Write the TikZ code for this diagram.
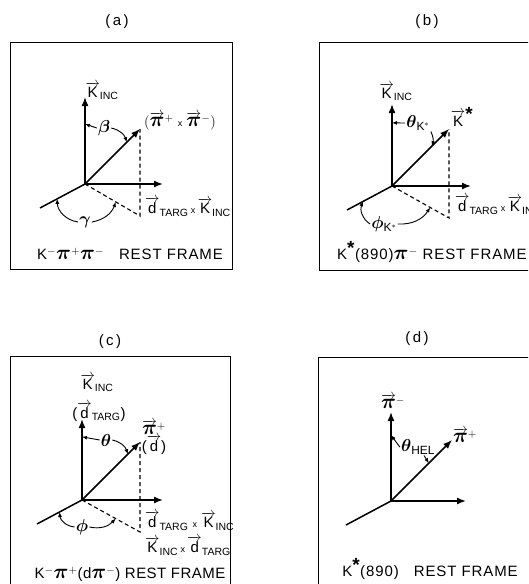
\documentclass[tikz,border=0pt]{standalone}
\usepackage{amsmath}
\usepackage{fontspec}
\setmainfont{Liberation Sans}
\usetikzlibrary{arrows.meta,calc,positioning}
\newcommand{\arr}[1]{\overrightarrow{\mbox{#1}}}
\newcommand{\bpi}{\mbox{\fontsize{20}{20}\selectfont$\boldsymbol{\pi}$}}
\newcommand{\bstar}{\mbox{\fontsize{19}{19}\selectfont\bfseries *}}
\tikzset{
	axis/.style={line width=1.5pt,-{Latex[length=9pt,width=7pt]}},
	leg/.style={line width=1.5pt},
	proj/.style={line width=1.1pt,dash pattern=on 4pt off 3pt},
	ang/.style={line width=0.9pt,-{Latex[length=5pt,width=4pt]}},
	lbl/.style={font=\fontsize{15}{17}\selectfont,inner sep=1pt},
	grk/.style={font=\fontsize{17}{19}\selectfont,inner sep=1pt},
	frame text/.style={font=\fontsize{15}{17}\selectfont\addfontfeature{LetterSpace=6},inner sep=1pt},
	ttl/.style={font=\fontsize{15}{17}\selectfont},
	frm/.style={line width=0.9pt},
}
\begin{document}
\begin{tikzpicture}[x=1pt,y=-1pt]
		\path[use as bounding box,clip] (0,0) rectangle (528,584);

		% frames and titles
		\draw[frm] (10,42) rectangle (232,269);
		\draw[frm] (319,42) rectangle (545,270);
		\draw[frm] (10,356) rectangle (230,600);
		\draw[frm] (318,357) rectangle (545,600);
		\node[ttl] (ta) at (117,22) {(\,a\,)};
		\node[ttl] (tb) at (427,22) {(\,b\,)};
		\node[ttl] (tc) at (110,342) {(\,c\,)};
		\node[ttl] (td) at (417,339) {(\,d\,)};

		% axes: origin, height, diagonal, width
		\foreach \ox/\oy/\h/\d/\w/\p in {85/184/87/55/78/a,392/186/82/57/79/b,82/500/81/58/81/c,391/501/89/61/75/d}{
			\coordinate (\p-o) at (\ox,\oy);
			\coordinate (\p-z) at (\ox,\oy-\h);
			\coordinate (\p-r) at (\ox+\d,\oy-\d);
			\coordinate (\p-x) at (\ox+\w,\oy);
			\coordinate (\p-b) at (\ox-45,\oy+24);
			\coordinate (\p-f) at (\ox+\d,\oy+32);
			\draw[axis] (\p-o) -- (\p-z);
			\draw[axis] (\p-o) -- (\p-r);
			\draw[axis] (\p-o) -- (\p-x);
			\draw[leg] (\p-o) -- (\p-b);
			}

		\foreach \p in {a,b,c}{
			\draw[proj] (\p-o) -- (\p-f) -- (\p-r);
			}

		% (a)
		\node[lbl] (ka) at (102,91) {$\arr{K}_{\text{INC}}$};
		\node[lbl] (pxa) at (180,121) {$(\arr{\bpi}^{+}\ \text{\small x}\ \arr{\bpi}^{-})$};
		\node[lbl] (dka) at (188,207) {$\arr{d}_{\text{TARG}}\,\text{\small x}\,\arr{K}_{\text{INC}}$};
		\node[frame text] (fa) at (130,254) {K$^{-}\bpi^{+}\bpi^{-}$\quad REST FRAME};
		\node[grk] (beta) at (104,128) {$\boldsymbol{\beta}$};
		\node[grk] (gam) at (85,222) {$\boldsymbol{\gamma}$};
		\draw[ang] (beta.west) -- ($(a-o)!0.69!(a-z)$);
		\draw[ang] (beta.east) to[bend left=30] ($(a-o)!0.76!(a-r)$);
		\draw[ang] (gam.west) to[bend left=40] ($(a-o)!0.62!(a-b)$);
		\draw[ang] (gam.east) to[bend right=30] ($(a-o)!0.56!(a-f)$);

		% (b)
		\node[lbl] (kb) at (396,92) {$\arr{K}_{\text{INC}}$};
		\node[lbl] (ksb) at (462,117) {$\arr{K}^{\bstar}$};
		\node[lbl,anchor=west] (dkb) at (454,205) {$\arr{d}_{\text{TARG}}\,\text{\small x}\,\arr{K}_{\text{INC}}$};
		\node[frame text,anchor=west] (fb) at (336,252) {K$^{\bstar}$(890)$\bpi^{-}$ REST FRAME};
		\node[grk] (thb) at (418,123) {$\boldsymbol{\theta}_{\mathrm{K}^{*}}$};
		\node[grk] (phb) at (384,224) {$\boldsymbol{\phi}_{\mathrm{K}^{*}}$};
		\draw[ang] (thb.west) -- ($(b-o)!0.77!(b-z)$);
		\draw[ang] (thb.south east) to[bend left=20] ($(b-o)!0.70!(b-r)$);
		\draw[ang] (phb.west) to[bend left=40] ($(b-o)!0.64!(b-b)$);
		\draw[ang] (phb.east) to[bend right=30] ($(b-o)!0.67!(b-f)$);

		% (c)
		\node[lbl] (kc) at (97,383) {$\arr{K}_{\text{INC}}$};
		\node[lbl] (dc) at (99,412) {($\arr{d}_{\text{TARG}}$)};
		\node[lbl,inner sep=0pt] (pc) at (154,427) {$\arr{\bpi}^{+}$};
		\node[lbl,inner sep=0pt,below=1pt of pc] (dpc) {($\arr{d}$)};
		\node[lbl,inner sep=0pt,anchor=west] (dkc) at (145,521) {$\arr{d}_{\text{TARG}}\ \text{\small x}\ \arr{K}_{\text{INC}}$};
		\node[lbl,inner sep=0pt,anchor=west] (kdc) at (145,546) {$\arr{K}_{\text{INC}}\,\text{\small x}\,\arr{d}_{\text{TARG}}$};
		\node[frame text,font=\fontsize{15}{17}\selectfont\addfontfeature{LetterSpace=3}] (fc) at (130,574) {K$^{-}\bpi^{+}$(d$\bpi^{-}$) REST FRAME};
		\node[grk] (thc) at (106,440) {$\boldsymbol{\theta}$};
		\node[grk] (phc) at (82,527) {$\boldsymbol{\phi}$};
		\draw[ang] (thc.west) -- ($(c-o)!0.78!(c-z)$);
		\draw[ang] (thc.east) to[bend left=30] ($(c-o)!0.79!(c-r)$);
		\draw[ang] (phc.west) to[bend left=40] ($(c-o)!0.5!(c-b)$);
		\draw[ang] (phc.east) to[bend right=30] ($(c-o)!0.58!(c-f)$);

		% (d)
		\node[lbl] (pmd) at (393,401) {$\arr{\bpi}^{-}$};
		\node[lbl] (ppd) at (465,435) {$\arr{\bpi}^{+}$};
		\node[grk] (thd) at (418,447) {$\boldsymbol{\theta}_{\text{HEL}}$};
		\node[frame text] (fd) at (430,569) {K$^{\bstar}$(890)\quad REST FRAME};
		\draw[ang] (thd.west) -- ($(d-o)!0.74!(d-z)$);
		\draw[ang] ([xshift=6pt]thd.south) -- ($(d-o)!0.62!(d-r)$);
	\end{tikzpicture}
\end{document}
